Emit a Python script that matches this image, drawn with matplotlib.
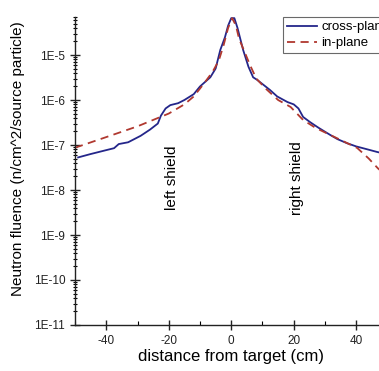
import numpy as np
import matplotlib
matplotlib.use("Agg")
import matplotlib.pyplot as plt
from matplotlib.ticker import LogLocator, FuncFormatter, MultipleLocator

plt.rcParams['font.family'] = ['Liberation Sans', 'DejaVu Sans']
plt.rcParams['axes.unicode_minus'] = False

# cross-plane fluence profile
cross_x = [-49, -45, -40, -37.5, -36, -33, -29, -26, -23.5, -22.5, -21, -19.5,
           -17, -15, -12, -10, -6.7, -5, -3.5, -2, -1, 0, 1, 2, 3.8, 5.5, 7,
           8.3, 12.4, 14.7, 18, 20, 21.5, 23, 25.3, 28, 31.7, 34, 37, 40, 43,
           46.7, 50]
cross_y = [5.3e-8, 6.3e-8, 7.7e-8, 8.5e-8, 1.05e-7, 1.15e-7, 1.6e-7, 2.2e-7,
           3.0e-7, 4.5e-7, 6.5e-7, 7.7e-7, 8.5e-7, 1.0e-6, 1.35e-6, 2.0e-6,
           3.2e-6, 5e-6, 1.3e-5, 2.5e-5, 4.5e-5, 6.6e-5, 6.6e-5, 4e-5, 1.3e-5,
           5.5e-6, 3.2e-6, 2.8e-6, 1.67e-6, 1.2e-6, 9e-7, 8e-7, 6.5e-7, 4.2e-7,
           3.2e-7, 2.4e-7, 1.67e-7, 1.35e-7, 1.1e-7, 9.3e-8, 8.2e-8, 7e-8, 6.2e-8]

# in-plane fluence profile
inplane_x = [-50, -40, -30, -20, -15, -12, -9, -6, -4, -2.5, -1, 0.3, 1.5, 2.5,
             4, 6, 8, 11, 15, 19, 23, 27, 31.7, 36, 40.3, 44, 47, 50]
inplane_y = [8.7e-8, 1.5e-7, 2.6e-7, 5e-7, 8e-7, 1.2e-6, 2.2e-6, 4.2e-6,
             7.5e-6, 1.6e-5, 4e-5, 6.6e-5, 4.5e-5, 2.3e-5, 1.3e-5, 6e-6, 3e-6,
             1.8e-6, 1e-6, 7e-7, 3.6e-7, 2.4e-7, 1.67e-7, 1.2e-7, 8.6e-8, 5e-8,
             3e-8, 2e-8]

shield_labels = ["left shield", "right shield"]
shield_x = [-18.9, 21.1]
shield_y = [1.85e-8, 1.85e-8]

fig = plt.figure(figsize=(3.79, 3.71), dpi=100)
ax = fig.add_axes([0.1979, 0.1240, 0.8245, 0.8302])

ax.plot(cross_x, cross_y, color='#24268a', lw=1.3, label='cross-plane')
ax.plot(inplane_x, inplane_y, color='#b0382f', lw=1.3, ls=(0, (4.5, 3)),
        label='in-plane')

for txt, sx, sy in zip(shield_labels, shield_x, shield_y):
    ax.text(sx, sy, txt, rotation=90, ha='center', va='center', fontsize=11)

ax.set_yscale('log')
ax.set_xlim(-50, 50)
ax.set_ylim(1e-11, 7e-5)

ax.yaxis.set_major_locator(LogLocator(base=10, numticks=20))
ax.yaxis.set_minor_locator(LogLocator(base=10, subs=np.arange(2, 10), numticks=20))
ax.yaxis.set_major_formatter(FuncFormatter(lambda v, _: f"1E{int(round(np.log10(v)))}"))
ax.xaxis.set_major_locator(MultipleLocator(20))
ax.xaxis.set_minor_locator(MultipleLocator(10))

ax.tick_params(axis='both', which='major', direction='inout', length=7,
               width=1, labelsize=8.5, colors='#222222')
ax.tick_params(axis='y', which='minor', direction='inout', length=3, width=0.8)
ax.tick_params(axis='x', which='minor', direction='in', length=3, width=0.8)

for side in ['top', 'right']:
    ax.spines[side].set_visible(False)
for side in ['left', 'bottom']:
    ax.spines[side].set_linewidth(1)
    ax.spines[side].set_color('#222222')

ax.set_xlabel('distance from target (cm)', fontsize=12, labelpad=2)
ax.set_ylabel('Neutron fluence (n/cm^2/source particle)', fontsize=11)
ax.yaxis.set_label_coords(-0.16, 0.539)

leg = ax.legend(loc='upper left', bbox_to_anchor=(283 / 379, 1 - 17 / 371),
                bbox_transform=fig.transFigure, borderaxespad=0,
                fontsize=9.5, frameon=True, fancybox=False, handlelength=2.3,
                handletextpad=0.3, labelspacing=0.3, borderpad=0.3)
leg.get_frame().set_edgecolor('#444444')
leg.get_frame().set_linewidth(0.8)

fig.savefig('out.png', dpi=100)
